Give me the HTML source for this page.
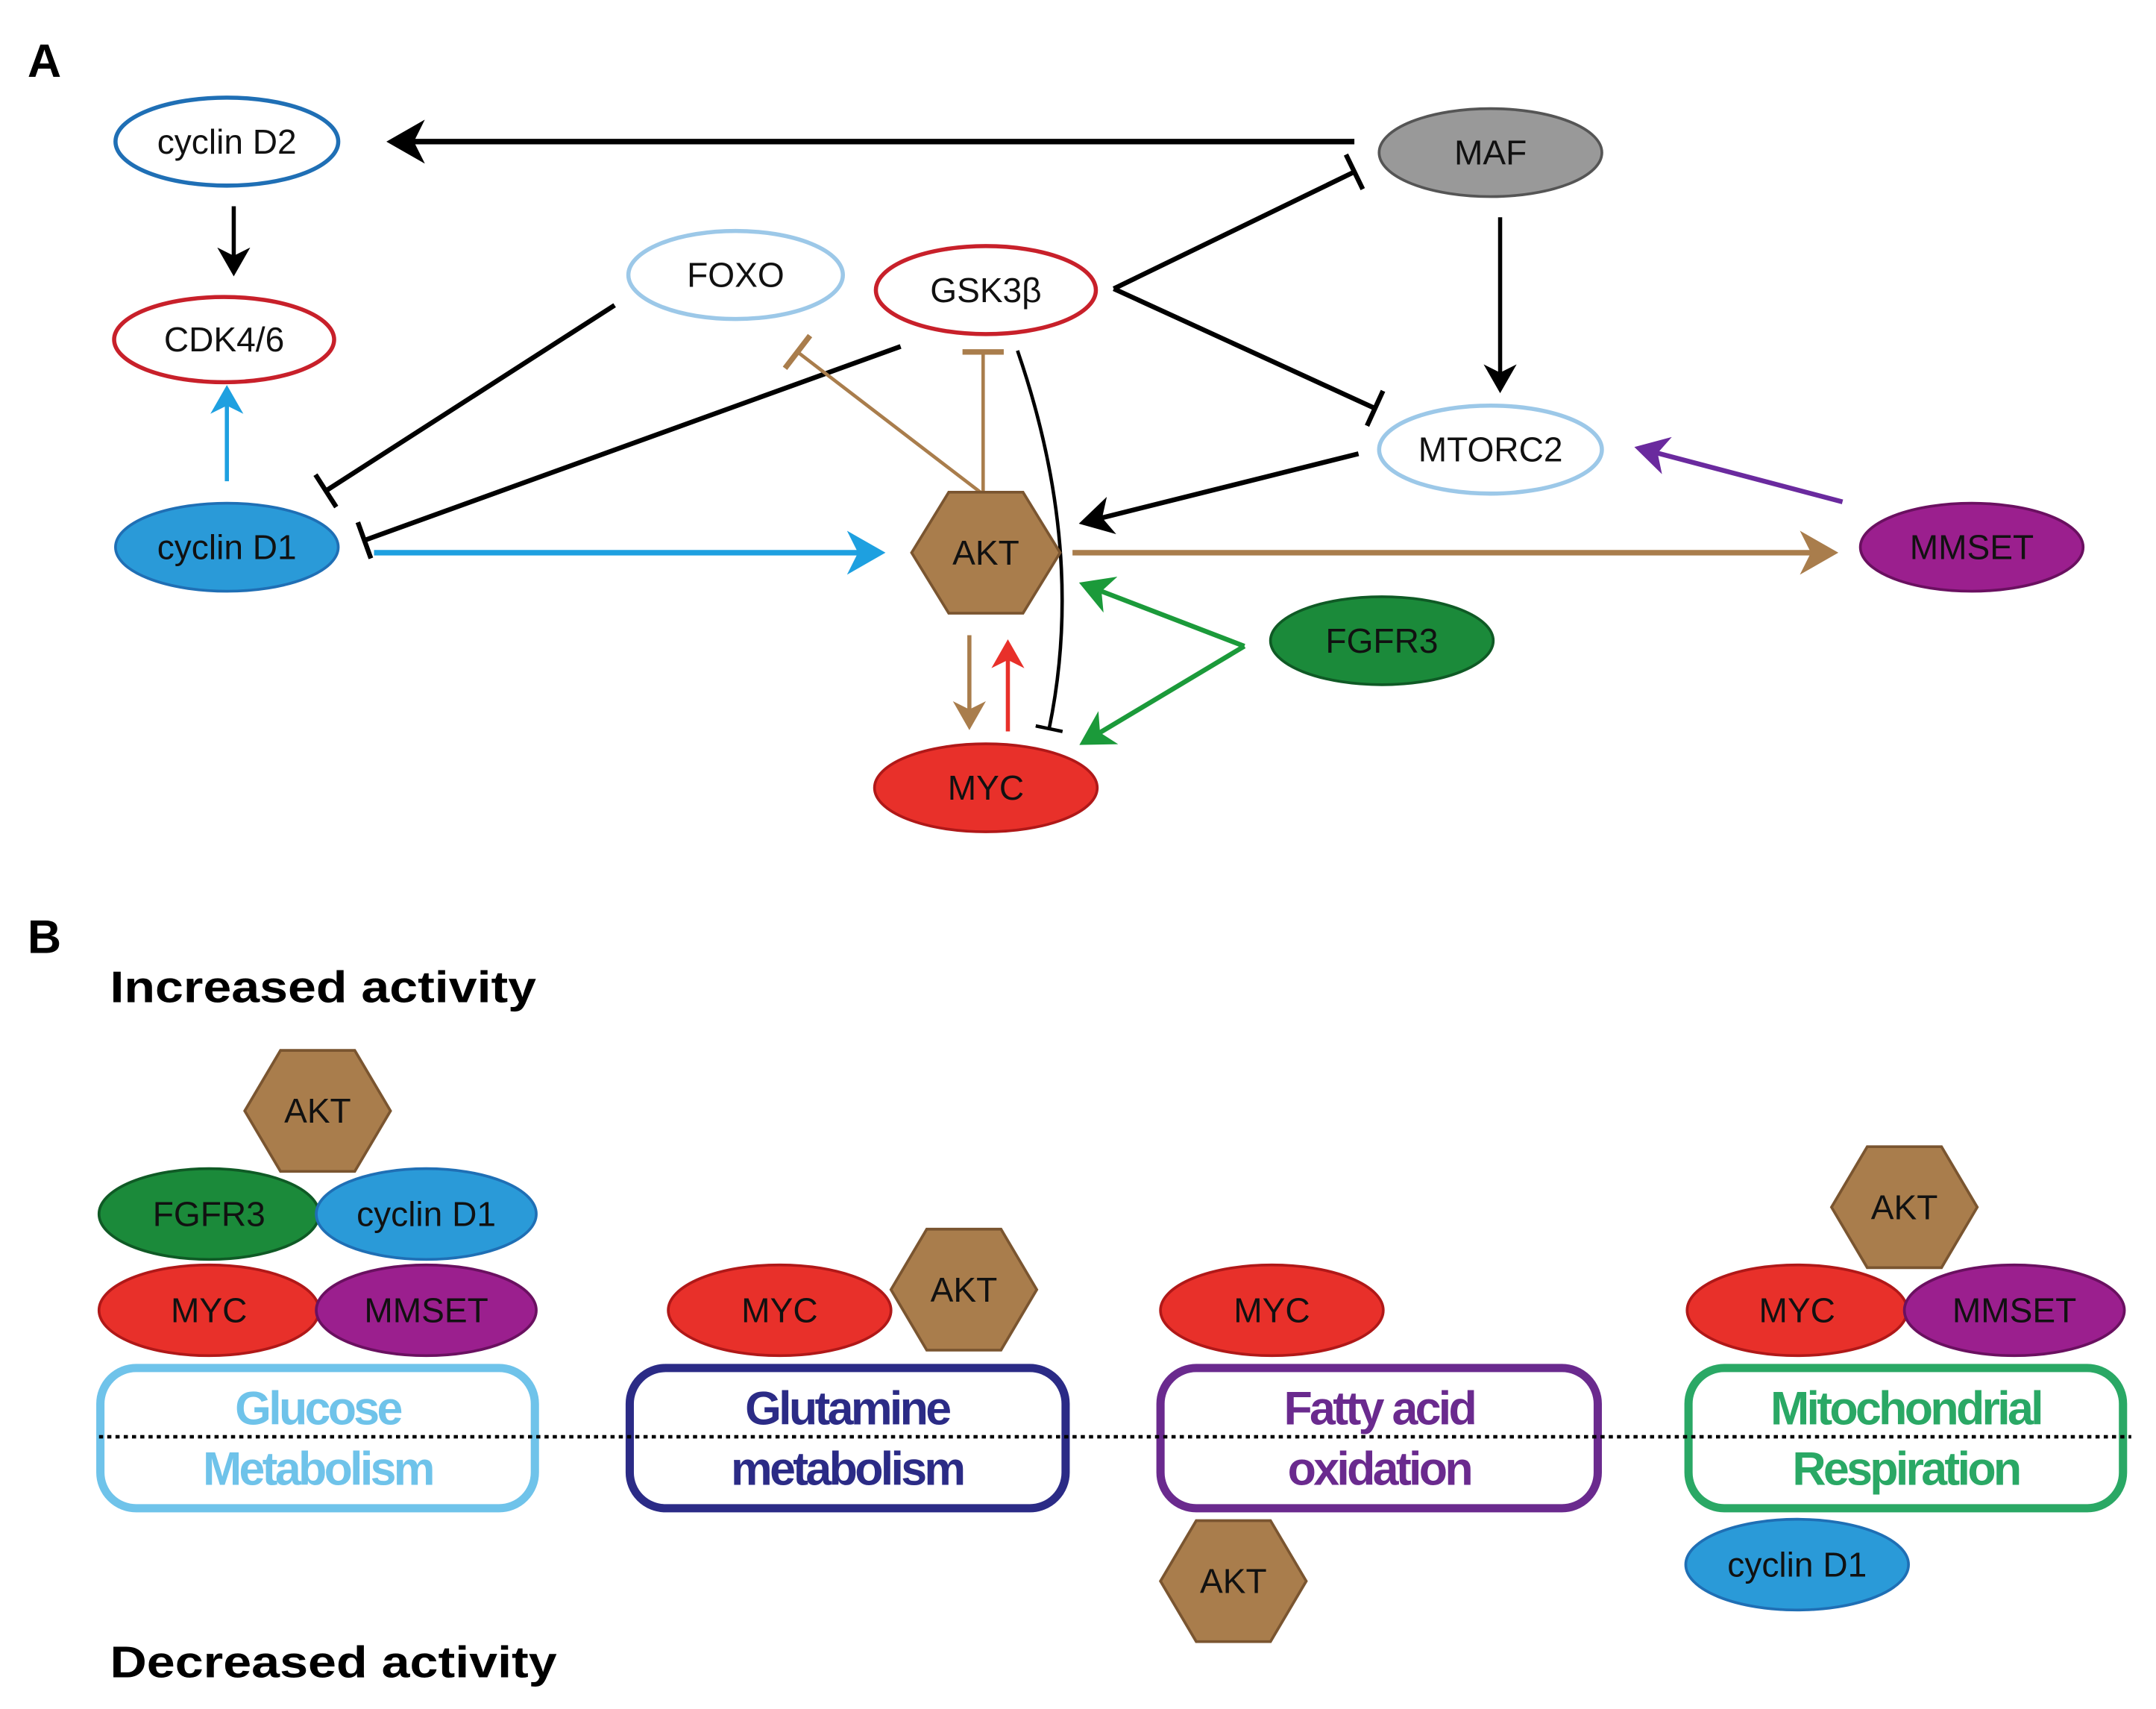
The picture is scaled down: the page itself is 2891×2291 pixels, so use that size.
<!DOCTYPE html>
<html><head><meta charset="utf-8"><style>
html,body{margin:0;padding:0;background:#fff;}
svg{display:block;}
text{font-family:"Liberation Sans",sans-serif;}
.n{font-size:25px;text-anchor:middle;dominant-baseline:central;fill:#111;}
.b{font-size:34px;font-weight:bold;text-anchor:middle;letter-spacing:-2px;}
</style></head><body>
<svg width="2891" height="2291" viewBox="0 0 1568 1243" preserveAspectRatio="none" xmlns="http://www.w3.org/2000/svg">
<defs>
<marker id="ak" markerWidth="8" markerHeight="8" refX="6" refY="4" orient="auto" markerUnits="strokeWidth"><path d="M0,0 L7,4 L0,8 L2,4 Z" fill="#000"/></marker>
<marker id="ab" markerWidth="8" markerHeight="8" refX="6" refY="4" orient="auto" markerUnits="strokeWidth"><path d="M0,0 L7,4 L0,8 L2,4 Z" fill="#1ea0e0"/></marker>
<marker id="an" markerWidth="8" markerHeight="8" refX="6" refY="4" orient="auto" markerUnits="strokeWidth"><path d="M0,0 L7,4 L0,8 L2,4 Z" fill="#a97d4c"/></marker>
<marker id="ar" markerWidth="8" markerHeight="8" refX="6" refY="4" orient="auto" markerUnits="strokeWidth"><path d="M0,0 L7,4 L0,8 L2,4 Z" fill="#e8302a"/></marker>
<marker id="ag" markerWidth="8" markerHeight="8" refX="6" refY="4" orient="auto" markerUnits="strokeWidth"><path d="M0,0 L7,4 L0,8 L2,4 Z" fill="#1b9a3a"/></marker>
<marker id="ap" markerWidth="8" markerHeight="8" refX="6" refY="4" orient="auto" markerUnits="strokeWidth"><path d="M0,0 L7,4 L0,8 L2,4 Z" fill="#6a2a9e"/></marker>
<marker id="tk" markerWidth="4" markerHeight="8" refX="2" refY="4" orient="auto" markerUnits="strokeWidth"><path d="M2,0 L2,8" stroke="#000" stroke-width="1"/></marker>
<marker id="tn" markerWidth="4" markerHeight="12" refX="2" refY="6" orient="auto" markerUnits="strokeWidth"><path d="M2,0 L2,12" stroke="#a97d4c" stroke-width="1.6"/></marker>
</defs>
<text x="20" y="56" font-size="34" font-weight="bold">A</text>
<g fill="none">
<line x1="985" y1="103" x2="285" y2="103" stroke="#000" stroke-width="4" marker-end="url(#ak)"/>
<line x1="170" y1="150" x2="170" y2="198" stroke="#000" stroke-width="3" marker-end="url(#ak)"/>
<line x1="165" y1="350" x2="165" y2="283" stroke="#1ea0e0" stroke-width="3" marker-end="url(#ab)"/>
<line x1="272" y1="402" x2="640" y2="402" stroke="#1ea0e0" stroke-width="4" marker-end="url(#ab)"/>
<line x1="447" y1="222" x2="237" y2="357" stroke="#000" stroke-width="3.5" marker-end="url(#tk)"/>
<line x1="655" y1="252" x2="265" y2="393" stroke="#000" stroke-width="3.5" marker-end="url(#tk)"/>
<line x1="810" y1="210" x2="985" y2="125" stroke="#000" stroke-width="3.5" marker-end="url(#tk)"/>
<line x1="810" y1="210" x2="1000" y2="297" stroke="#000" stroke-width="3.5" marker-end="url(#tk)"/>
<line x1="1091" y1="158" x2="1091" y2="283" stroke="#000" stroke-width="3" marker-end="url(#ak)"/>
<line x1="988" y1="330" x2="788" y2="380" stroke="#000" stroke-width="3.5" marker-end="url(#ak)"/>
<line x1="1340" y1="365" x2="1192" y2="326" stroke="#6a2a9e" stroke-width="3.5" marker-end="url(#ap)"/>
<line x1="780" y1="402" x2="1333" y2="402" stroke="#a97d4c" stroke-width="4" marker-end="url(#an)"/>
<line x1="713" y1="358" x2="580" y2="256" stroke="#a97d4c" stroke-width="2.5" marker-end="url(#tn)"/>
<line x1="715" y1="358" x2="715" y2="256" stroke="#a97d4c" stroke-width="2.5" marker-end="url(#tn)"/>
<path d="M740,255 Q790,400 763,530" stroke="#000" stroke-width="2.5" marker-end="url(#tk)"/>
<line x1="705" y1="462" x2="705" y2="528" stroke="#a97d4c" stroke-width="3" marker-end="url(#an)"/>
<line x1="733" y1="532" x2="733" y2="468" stroke="#e8302a" stroke-width="3" marker-end="url(#ar)"/>
<line x1="905" y1="470" x2="788" y2="425" stroke="#1b9a3a" stroke-width="3.5" marker-end="url(#ag)"/>
<line x1="905" y1="470" x2="788" y2="540" stroke="#1b9a3a" stroke-width="3.5" marker-end="url(#ag)"/>
</g>
<ellipse cx="165" cy="103" rx="81" ry="32" fill="#fff" stroke="#1f6fb5" stroke-width="3"/><text class="n" x="165" y="103">cyclin D2</text>
<ellipse cx="163" cy="247" rx="80" ry="31" fill="#fff" stroke="#c8202a" stroke-width="3"/><text class="n" x="163" y="247">CDK4/6</text>
<ellipse cx="165" cy="398" rx="81" ry="32" fill="#2a9ad8" stroke="#1f6fb5" stroke-width="2"/><text class="n" x="165" y="398">cyclin D1</text>
<ellipse cx="535" cy="200" rx="78" ry="32" fill="#fff" stroke="#9cc8e8" stroke-width="3"/><text class="n" x="535" y="200">FOXO</text>
<ellipse cx="717" cy="211" rx="80" ry="32" fill="#fff" stroke="#c8202a" stroke-width="3"/><text class="n" x="717" y="211">GSK3β</text>
<ellipse cx="1084" cy="111" rx="81" ry="32" fill="#999" stroke="#555" stroke-width="2"/><text class="n" x="1084" y="111">MAF</text>
<ellipse cx="1084" cy="327" rx="81" ry="32" fill="#fff" stroke="#9cc8e8" stroke-width="3"/><text class="n" x="1084" y="327">MTORC2</text>
<polygon points="663,402 690,358 744,358 771,402 744,446 690,446" fill="#a97d4c" stroke="#7a5530" stroke-width="2"/><text class="n" x="717" y="402">AKT</text>
<ellipse cx="1434" cy="398" rx="81" ry="32" fill="#9b1f8e" stroke="#6a1060" stroke-width="2"/><text class="n" x="1434" y="398">MMSET</text>
<ellipse cx="1005" cy="466" rx="81" ry="32" fill="#1b8a3a" stroke="#0f5a25" stroke-width="2"/><text class="n" x="1005" y="466">FGFR3</text>
<ellipse cx="717" cy="573" rx="81" ry="32" fill="#e8302a" stroke="#b01818" stroke-width="2"/><text class="n" x="717" y="573">MYC</text>
<text x="20" y="693" font-size="34" font-weight="bold">B</text>
<text x="80" y="729" font-size="32" font-weight="bold" textLength="310" lengthAdjust="spacingAndGlyphs">Increased activity</text>
<text x="80" y="1220" font-size="32" font-weight="bold" textLength="325" lengthAdjust="spacingAndGlyphs">Decreased activity</text>
<g stroke-width="6" fill="#fff">
<rect x="73" y="995" width="316" height="102" rx="26" stroke="#6fc3ea"/>
<rect x="458" y="995" width="317" height="102" rx="26" stroke="#2b2b86"/>
<rect x="844" y="995" width="318" height="102" rx="26" stroke="#6a2a8e"/>
<rect x="1228" y="995" width="316" height="102" rx="26" stroke="#2aa865"/>
</g>
<line x1="72" y1="1045" x2="1550" y2="1045" stroke="#000" stroke-width="2.5" stroke-dasharray="3,3"/>
<text class="b" x="231" y="1036" fill="#6fc3ea">Glucose</text><text class="b" x="231" y="1080" fill="#6fc3ea">Metabolism</text>
<text class="b" x="616" y="1036" fill="#2b2b86">Glutamine</text><text class="b" x="616" y="1080" fill="#2b2b86">metabolism</text>
<text class="b" x="1003" y="1036" fill="#6a2a8e">Fatty acid</text><text class="b" x="1003" y="1080" fill="#6a2a8e">oxidation</text>
<text class="b" x="1386" y="1036" fill="#2aa865">Mitochondrial</text><text class="b" x="1386" y="1080" fill="#2aa865">Respiration</text>
<polygon points="178,808 204,764 258,764 284,808 258,852 204,852" fill="#a97d4c" stroke="#7a5530" stroke-width="2"/><text class="n" x="231" y="808">AKT</text>
<ellipse cx="152" cy="883" rx="80" ry="33" fill="#1b8a3a" stroke="#0f5a25" stroke-width="2"/><text class="n" x="152" y="883">FGFR3</text>
<ellipse cx="310" cy="883" rx="80" ry="33" fill="#2a9ad8" stroke="#1f6fb5" stroke-width="2"/><text class="n" x="310" y="883">cyclin D1</text>
<ellipse cx="152" cy="953" rx="80" ry="33" fill="#e8302a" stroke="#b01818" stroke-width="2"/><text class="n" x="152" y="953">MYC</text>
<ellipse cx="310" cy="953" rx="80" ry="33" fill="#9b1f8e" stroke="#6a1060" stroke-width="2"/><text class="n" x="310" y="953">MMSET</text>
<ellipse cx="567" cy="953" rx="81" ry="33" fill="#e8302a" stroke="#b01818" stroke-width="2"/><text class="n" x="567" y="953">MYC</text>
<polygon points="648,938 674,894 728,894 754,938 728,982 674,982" fill="#a97d4c" stroke="#7a5530" stroke-width="2"/><text class="n" x="701" y="938">AKT</text>
<ellipse cx="925" cy="953" rx="81" ry="33" fill="#e8302a" stroke="#b01818" stroke-width="2"/><text class="n" x="925" y="953">MYC</text>
<polygon points="844,1150 870,1106 924,1106 950,1150 924,1194 870,1194" fill="#a97d4c" stroke="#7a5530" stroke-width="2"/><text class="n" x="897" y="1150">AKT</text>
<polygon points="1332,878 1358,834 1412,834 1438,878 1412,922 1358,922" fill="#a97d4c" stroke="#7a5530" stroke-width="2"/><text class="n" x="1385" y="878">AKT</text>
<ellipse cx="1307" cy="953" rx="80" ry="33" fill="#e8302a" stroke="#b01818" stroke-width="2"/><text class="n" x="1307" y="953">MYC</text>
<ellipse cx="1465" cy="953" rx="80" ry="33" fill="#9b1f8e" stroke="#6a1060" stroke-width="2"/><text class="n" x="1465" y="953">MMSET</text>
<ellipse cx="1307" cy="1138" rx="81" ry="33" fill="#2a9ad8" stroke="#1f6fb5" stroke-width="2"/><text class="n" x="1307" y="1138">cyclin D1</text>
</svg>
</body></html>
